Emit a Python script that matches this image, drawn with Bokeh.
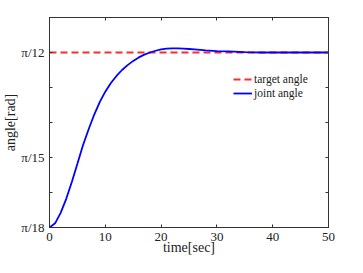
from bokeh.plotting import figure
from bokeh.models import Range1d, FixedTicker, LinearAxis, Legend, LegendItem
from bokeh.embed import file_html
from bokeh.resources import INLINE

# time [sec] and joint angle (in degrees; pi/18 = 10 deg, pi/15 = 12 deg, pi/12 = 15 deg)
time_s = [0, 1, 2, 3, 4, 5, 6, 7, 8, 9, 10, 11, 12, 13, 14, 15, 16, 17, 18, 19,
          20, 21, 22, 23, 24, 25, 26, 28, 30, 32, 35, 38, 40, 45, 50]
joint_deg = [10.0, 10.12, 10.42, 10.82, 11.3, 11.82, 12.35, 12.8, 13.22, 13.58,
             13.88, 14.13, 14.33, 14.5, 14.64, 14.76, 14.86, 14.94, 15.0, 15.05,
             15.09, 15.11, 15.12, 15.12, 15.11, 15.1, 15.09, 15.06, 15.04, 15.03,
             15.01, 15.0, 15.0, 15.0, 15.0]
target_time = [0, 50]
target_deg = [15, 15]

x_ticks = [0, 10, 20, 30, 40, 50]
y_ticks = [10, 11, 12, 13, 14, 15, 16]
y_tick_labels = {10: "π/18", 11: "", 12: "π/15", 13: "", 14: "", 15: "π/12", 16: ""}

FONT = "Liberation Serif"
AX = "#333333"

p = figure(width=347, height=257, output_backend="svg", toolbar_location=None,
           x_range=Range1d(0, 50), y_range=Range1d(10, 16),
           min_border_left=48, min_border_right=19, min_border_top=17, min_border_bottom=30)
p.background_fill_color = "white"
p.border_fill_color = "white"
p.grid.visible = False
p.outline_line_color = AX
p.outline_line_width = 1

r_target = p.line(target_time, target_deg, line_color="#ff2a2a", line_width=1.8, line_dash="7 4")
r_joint = p.line(time_s, joint_deg, line_color="#0000ff", line_width=1.8)

def style(ax, ticks, show_labels=True):
    ax.ticker = FixedTicker(ticks=ticks)
    ax.minor_tick_line_color = None
    ax.major_tick_in = 3
    ax.major_tick_out = 0
    ax.major_tick_line_color = AX
    ax.axis_line_color = AX
    ax.major_label_text_font = FONT
    ax.major_label_text_font_size = "13px" if show_labels else "0px"
    ax.major_label_text_color = "#222222"
    ax.major_label_standoff = 5 if show_labels else 0
    ax.axis_label_text_font = FONT
    ax.axis_label_text_font_size = "14px"
    ax.axis_label_text_font_style = "normal"
    ax.axis_label_text_color = "#222222"

style(p.xaxis[0], x_ticks)
p.xaxis[0].axis_label = "time[sec]"
p.xaxis[0].axis_label_standoff = -4

style(p.yaxis[0], y_ticks)
p.yaxis[0].axis_label = "angle[rad]"
p.yaxis[0].axis_label_standoff = 0
p.yaxis[0].major_label_overrides = y_tick_labels

top = LinearAxis()
style(top, x_ticks, show_labels=False)
top.major_label_overrides = {t: "" for t in x_ticks}
p.add_layout(top, "above")

right = LinearAxis()
style(right, y_ticks, show_labels=False)
right.major_label_overrides = {t: "" for t in y_ticks}
p.add_layout(right, "right")

legend = Legend(items=[LegendItem(label="target angle", renderers=[r_target]),
                       LegendItem(label="joint angle", renderers=[r_joint])],
                location=(184, 127))
legend.padding = 0
legend.margin = 0
legend.spacing = 0
legend.label_height = 14
legend.glyph_height = 14
legend.glyph_width = 19
legend.label_standoff = 2
legend.label_text_font = FONT
legend.label_text_font_size = "11.5px"
legend.label_text_color = "#222222"
legend.border_line_color = None
legend.background_fill_alpha = 0
p.add_layout(legend, "center")

open("out.html", "w").write(file_html(p, INLINE))
